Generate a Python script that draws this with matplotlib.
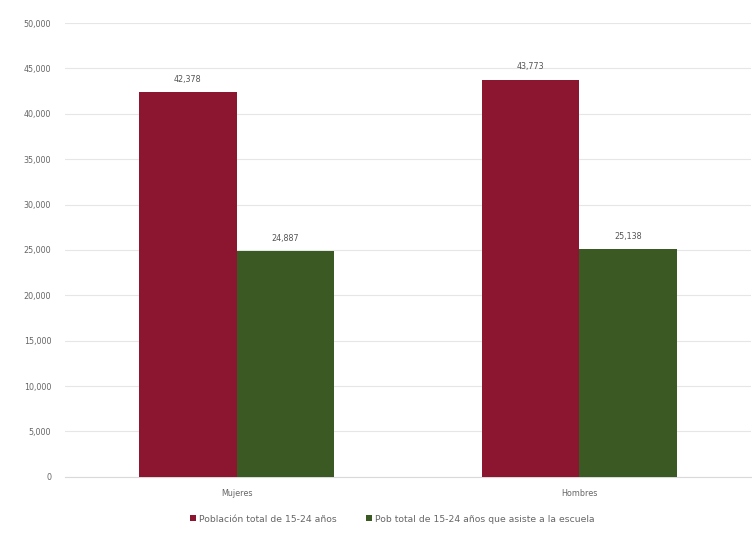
import matplotlib.pyplot as plt
import numpy as np
from matplotlib.ticker import FuncFormatter

# datos
categorias = ["Mujeres", "Hombres"]
pob_total = [42378, 43773]
pob_escuela = [24887, 25138]
series = ["Población total de 15-24 años", "Pob total de 15-24 años que asiste a la escuela"]
colores = ["#8C1530", "#3B5A23"]

plt.rcParams["font.family"] = "DejaVu Sans"

fig = plt.figure(figsize=(7.52, 5.37), dpi=100, facecolor="white")
ax = fig.add_axes([0.0865, 0.112, 0.912, 0.845])

x = np.arange(len(categorias))
ancho = 0.285

for k, (vals, nombre, color) in enumerate(zip([pob_total, pob_escuela], series, colores)):
    pos = x + (k - 0.5) * ancho
    ax.bar(pos, vals, ancho, color=color, label=nombre, zorder=3)
    for p, v in zip(pos, vals):
        ax.text(p, v + 900, f"{v:,}", ha="center", va="bottom", fontsize=5.8, color="#555555")

ax.set_ylim(0, 50000)
ax.set_yticks(np.arange(0, 50001, 5000))
ax.yaxis.set_major_formatter(FuncFormatter(lambda v, _: f"{int(v):,}"))
ax.set_xlim(-0.5, 1.5)
ax.set_xticks(x, labels=categorias)

ax.grid(axis="y", color="#e6e6e6", linewidth=0.8, zorder=0)
for s in ax.spines.values():
    s.set_visible(False)
ax.spines["bottom"].set_visible(True)
ax.spines["bottom"].set_color("#d9d9d9")
ax.tick_params(axis="both", length=0, labelsize=5.8, labelcolor="#666666")
ax.tick_params(axis="y", pad=10)
ax.tick_params(axis="x", pad=9)

ax.legend(loc="upper center", bbox_to_anchor=(0.477, -0.065), ncol=2, frameon=False,
          fontsize=6.7, labelcolor="#666666", handlelength=0.6, handleheight=0.6,
          handletextpad=0.3, columnspacing=3.2)

fig.savefig("out.png", dpi=100, facecolor="white")
